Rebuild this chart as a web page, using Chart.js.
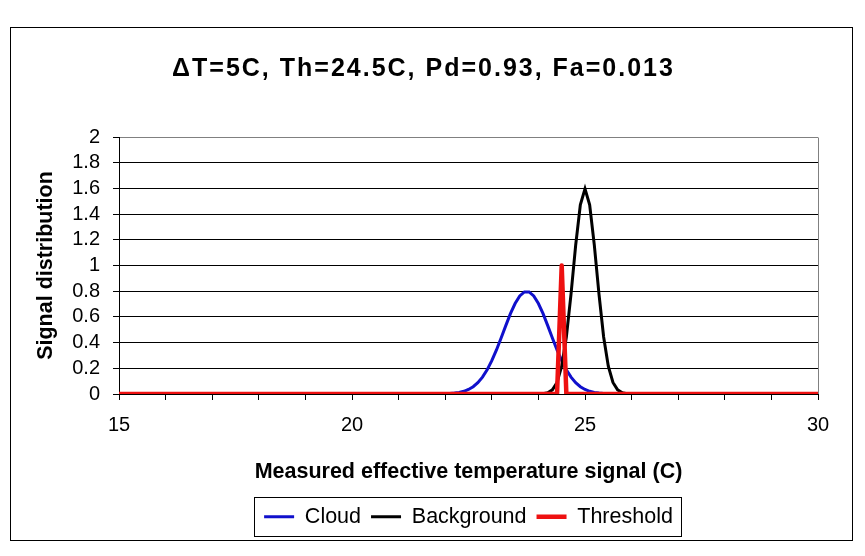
<!DOCTYPE html>
<html><head><meta charset="utf-8">
<script src="https://cdn.jsdelivr.net/npm/chart.js@4/dist/chart.umd.min.js"></script>
<style>html,body{margin:0;padding:0;background:#fff}#wrap{width:865px;height:556px;position:relative}</style>
</head><body><div id="wrap"><canvas id="c" width="865" height="556"></canvas></div>
<script>
const chartTitle = 'ΔT=5C, Th=24.5C, Pd=0.93, Fa=0.013';
const xAxisTitle = 'Measured effective temperature signal (C)';
const yAxisTitle = 'Signal distribution';
const seriesNames = ['Cloud', 'Background', 'Threshold'];

const xTickLabels = [15, 20, 25, 30];
const yTickLabels = ['0', '0.2', '0.4', '0.6', '0.8', '1', '1.2', '1.4', '1.6', '1.8', '2'];

const cloudX = [15, 22.1, 22.2, 22.3, 22.4, 22.5, 22.6, 22.7, 22.8, 22.9, 23.0, 23.1, 23.2, 23.3, 23.4, 23.5, 23.6, 23.7, 23.8, 23.9, 24.0, 24.1, 24.2, 24.3, 24.4, 24.5, 24.6, 24.7, 24.8, 24.9, 25.0, 25.1, 25.2, 25.3, 25.4, 30];
const cloudY = [0, 0.003, 0.007, 0.012, 0.021, 0.035, 0.057, 0.088, 0.131, 0.188, 0.259, 0.343, 0.436, 0.532, 0.625, 0.704, 0.763, 0.794, 0.794, 0.763, 0.704, 0.625, 0.532, 0.436, 0.343, 0.259, 0.188, 0.131, 0.088, 0.057, 0.035, 0.021, 0.012, 0.007, 0.003, 0];

const backgroundX = [15, 24.1, 24.2, 24.3, 24.4, 24.5, 24.6, 24.7, 24.8, 24.9, 25.0, 25.1, 25.2, 25.3, 25.4, 25.5, 25.6, 25.7, 25.8, 25.9, 30];
const backgroundY = [0, 0.002, 0.010, 0.032, 0.090, 0.216, 0.444, 0.777, 1.159, 1.473, 1.596, 1.473, 1.159, 0.777, 0.444, 0.216, 0.090, 0.032, 0.010, 0.002, 0];

const thresholdX = [15, 24.4, 24.5, 24.6, 30];
const thresholdY = [0, 0, 1, 0, 0];

function pts(xs, ys) { return xs.map((x, i) => ({x: x, y: ys[i]})); }

const FONT = "'Liberation Sans', Arial, sans-serif";

const framePlugin = {
  id: 'frame',
  beforeDraw(chart) {
    const tb = chart.titleBlock;
    if (tb && !tb._patched) {
      const orig = tb.draw;
      tb.draw = function () {
        const c = this.ctx; c.save(); c.letterSpacing = '2px';
        orig.apply(this, arguments); c.restore();
      };
      tb._patched = true;
    }
    const ctx = chart.ctx;
    ctx.save();
    ctx.fillStyle = '#fff'; ctx.fillRect(0, 0, chart.width, chart.height);
    ctx.strokeStyle = '#000'; ctx.lineWidth = 1;
    ctx.strokeRect(10.5, 27.5, 842, 513);
    ctx.restore();
  },
  beforeDatasetsDraw(chart) {
    const {right, top, bottom} = chart.chartArea;
    const ctx = chart.ctx;
    ctx.save();
    ctx.strokeStyle = '#808080'; ctx.lineWidth = 1;
    ctx.beginPath();
    const xr = Math.round(right) + 0.5;
    ctx.moveTo(xr, Math.round(top) + 0.5); ctx.lineTo(xr, bottom);
    ctx.stroke();
    ctx.restore();
  },
  afterDraw(chart) {
    const hb = chart.legend && chart.legend.legendHitBoxes;
    if (!hb || !hb.length) return;
    let l = Infinity, r = -Infinity, t = Infinity, b = -Infinity;
    hb.forEach(h => { l = Math.min(l, h.left); r = Math.max(r, h.left + h.width); t = Math.min(t, h.top); b = Math.max(b, h.top + h.height); });
    const ctx = chart.ctx;
    ctx.save(); ctx.strokeStyle = '#000'; ctx.lineWidth = 1;
    ctx.strokeRect(Math.round(l - 10) + 0.5, Math.round(t - 9) + 0.5, Math.round(r - l + 18), Math.round(b - t + 17));
    ctx.restore();
  }
};

new Chart(document.getElementById('c'), {
  type: 'line',
  data: {
    datasets: [
      {label: seriesNames[0], data: pts(cloudX, cloudY), borderColor: '#1010CC', backgroundColor: '#1010CC', borderWidth: 3, pointRadius: 0, tension: 0, order: 3},
      {label: seriesNames[1], data: pts(backgroundX, backgroundY), borderColor: '#000000', backgroundColor: '#000000', borderWidth: 3, pointRadius: 0, tension: 0, order: 2},
      {label: seriesNames[2], data: pts(thresholdX, thresholdY), borderColor: '#EE1111', backgroundColor: '#EE1111', borderWidth: 4.5, pointRadius: 0, tension: 0, borderJoinStyle: 'round', order: 1}
    ]
  },
  options: {
    responsive: false,
    animation: false,
    events: [],
    layout: {padding: {left: 29, right: 47, top: 0, bottom: 18.5}},
    plugins: {
      tooltip: {enabled: false},
      title: {
        display: true, text: chartTitle, color: '#000',
        font: {family: FONT, size: 25, weight: 'bold'},
        padding: {top: 54.3, bottom: 52.7}
      },
      legend: {
        position: 'bottom', fullSize: false,
        labels: {
          color: '#000', font: {family: FONT, size: 21.5},
          usePointStyle: true, pointStyle: 'line', pointStyleWidth: 30, boxHeight: 21.5,
          padding: 10,
          sort: (a, b) => a.datasetIndex - b.datasetIndex
        }
      }
    },
    scales: {
      x: {
        type: 'linear', min: 15, max: 30,
        border: {color: '#000', width: 1},
        grid: {drawOnChartArea: false, drawTicks: true, tickLength: 6, color: '#000', tickColor: '#000'},
        ticks: {
          stepSize: 1, autoSkip: false, maxRotation: 0, padding: 13, color: '#000',
          font: {family: FONT, size: 20},
          callback: (v) => xTickLabels.includes(v) ? String(v) : ''
        },
        title: {display: true, text: xAxisTitle, color: '#000', font: {family: FONT, size: 21.5, weight: 'bold'}, padding: {top: 4, bottom: 11.5}},
        afterFit: (s) => { s.height = 102; s.paddingLeft = 0; s.paddingRight = 0; }
      },
      y: {
        min: 0, max: 2,
        border: {color: '#000', width: 1},
        grid: {
          drawOnChartArea: true, drawTicks: true, tickLength: 6, tickColor: '#000',
          color: (c) => (c.tick && Math.abs(c.tick.value - 2) < 1e-9) ? '#808080' : '#000'
        },
        ticks: {
          stepSize: 0.2, autoSkip: false, padding: 13, color: '#000',
          font: {family: FONT, size: 20},
          callback: (v) => yTickLabels[Math.round(v / 0.2)]
        },
        title: {display: true, text: yAxisTitle, color: '#000', font: {family: FONT, size: 21.5, weight: 'bold'}, padding: {top: 4, bottom: 4}},
        afterFit: (s) => { s.width = 90; s.paddingTop = 0; s.paddingBottom = 0; }
      }
    }
  },
  plugins: [framePlugin]
});
</script>
</body></html>
